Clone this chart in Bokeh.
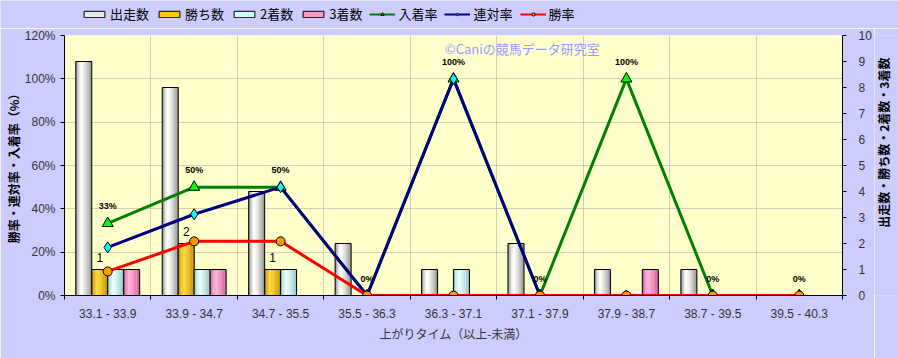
import math
from bokeh.plotting import figure
from bokeh.layouts import row, column
from bokeh.models import (Range1d, LinearAxis, FixedTicker, Legend, LegendItem,
                          Label, PrintfTickFormatter)
from bokeh.core.properties import value
from bokeh.embed import file_html
from bokeh.resources import INLINE

# ---- data ----
categories = ["33.1 - 33.9", "33.9 - 34.7", "34.7 - 35.5", "35.5 - 36.3", "36.3 - 37.1",
              "37.1 - 37.9", "37.9 - 38.7", "38.7 - 39.5", "39.5 - 40.3"]
starts = [9, 8, 4, 2, 1, 2, 1, 1, 0]
wins = [1, 2, 1, 0, 0, 0, 0, 0, 0]
seconds = [1, 1, 1, 0, 1, 0, 0, 0, 0]
thirds = [1, 1, 0, 0, 0, 0, 1, 0, 0]
place_rate = [33.3, 50.0, 50.0, 0, 100.0, 0, 100.0, 0, 0]
rentai_rate = [22.2, 37.5, 50.0, 0, 100.0, 0, 0, 0, 0]
win_rate = [11.1, 25.0, 25.0, 0, 0, 0, 0, 0, 0]
pct_ticks = [0, 20, 40, 60, 80, 100, 120]
cnt_ticks = list(range(0, 11))
right_title = "出走数・勝ち数・2着数・3着数"

JP = "Noto Sans CJK JP"
NUM = "Liberation Sans"
BG = "#ccccff"

n = len(categories)
centers = [i + 0.5 for i in range(n)]

p = figure(width=874, height=330, x_range=Range1d(0, n), y_range=Range1d(0, 120),
           output_backend="svg", toolbar_location=None,
           min_border_left=64, min_border_right=31, min_border_top=7, min_border_bottom=63,
           background_fill_color="#ffffcc", border_fill_color=BG,
           outline_line_color=None)
p.extra_y_ranges = {"cnt": Range1d(0, 10)}

# axes
xa = p.xaxis[0]
xa.ticker = FixedTicker(ticks=centers, minor_ticks=list(range(0, n + 1)))
xa.major_label_overrides = {c: lab for c, lab in zip(centers, categories)}
xa.major_tick_line_color = None
xa.minor_tick_in = 0
xa.minor_tick_out = 4
xa.minor_tick_line_color = "black"
xa.axis_line_color = "black"
xa.major_label_text_font = NUM
xa.major_label_text_font_size = "12px"
xa.major_label_text_color = "#333333"
xa.major_label_standoff = 5
xa.axis_label = "上がりタイム（以上-未満）"
xa.axis_label_text_font = JP
xa.axis_label_text_font_style = "normal"
xa.axis_label_text_font_size = "12px"
xa.axis_label_text_color = "#333333"
xa.axis_label_standoff = 1

ya = p.yaxis[0]
ya.ticker = FixedTicker(ticks=pct_ticks)
ya.formatter = PrintfTickFormatter(format="%d%%")
ya.major_tick_in = 0
ya.major_tick_out = 4
ya.minor_tick_line_color = None
ya.axis_line_color = "black"
ya.major_label_text_font = NUM
ya.major_label_text_font_size = "12px"
ya.major_label_text_color = "#333333"
ya.major_label_standoff = 5
ya.axis_label = "勝率・連対率・入着率（%）"
ya.axis_label_text_font = JP
ya.axis_label_text_font_style = "bold"
ya.axis_label_text_font_size = "12px"
ya.axis_label_text_color = "black"
ya.axis_label_standoff = 0

ra = LinearAxis(y_range_name="cnt", ticker=FixedTicker(ticks=cnt_ticks))
ra.major_tick_in = 0
ra.major_tick_out = 4
ra.minor_tick_line_color = None
ra.axis_line_color = "black"
ra.major_label_text_font = NUM
ra.major_label_text_font_size = "12px"
ra.major_label_text_color = "#333333"
ra.major_label_standoff = 12
p.add_layout(ra, "right")

# grids
p.xgrid.ticker = FixedTicker(ticks=list(range(1, n)))
p.ygrid.ticker = FixedTicker(ticks=pct_ticks[1:])
for g in (p.xgrid[0], p.ygrid[0]):
    g.grid_line_color = "#a0a0a0"
    g.grid_line_dash = "1 1"
    g.grid_line_width = 1

# ---- bars with cylinder shading ----
bar_w = 0.185
offsets = [-0.277, -0.092, 0.092, 0.277]
series = [
    ("出走数", starts, "#7a7a7a", "#ffffff", "#e8e8e8"),
    ("勝ち数", wins, "#b08000", "#ffd633", "#ffcc00"),
    ("2着数", seconds, "#7fb8b8", "#e6ffff", "#ccffff"),
    ("3着数", thirds, "#c0508a", "#ffb0d8", "#ff99cc"),
]


def mix(c1, c2, t):
    a = [int(c1[i:i + 2], 16) for i in (1, 3, 5)]
    b = [int(c2[i:i + 2], 16) for i in (1, 3, 5)]
    return "#%02x%02x%02x" % tuple(int(round(a[k] + (b[k] - a[k]) * t)) for k in range(3))


NS = 10
for (name, vals, dark, light, mid), off in zip(series, offsets):
    for k in range(NS):
        s = (k + 0.5) / NS
        if s < 0.35:
            t = 1 - ((0.35 - s) / 0.35) ** 1.5
        else:
            t = 1 - ((s - 0.35) / 0.65) ** 1.3 * 0.85
        col = mix(dark, light, max(0.0, min(1.0, t)))
        xs = [c + off - bar_w / 2 + (k + 0.5) * bar_w / NS for c in centers]
        p.vbar(x=xs, top=vals, bottom=0, width=bar_w / NS * 1.15,
               fill_color=col, line_color=None, y_range_name="cnt")
    xs = [c + off for c in centers]
    p.vbar(x=xs, top=vals, bottom=0, width=bar_w, fill_color=None,
           line_color="black", line_width=1, y_range_name="cnt")

# ---- lines ----
lines = [
    ("入着率", place_rate, "#008000", "triangle", "#00ff00", 11),
    ("連対率", rentai_rate, "#000080", "diamond", "#00ffff", 11),
    ("勝率", win_rate, "#ff0000", "circle", "#ff9900", 9),
]
for name, vals, lc, marker, mc, ms in lines:
    p.line(x=centers, y=vals, line_color=lc, line_width=3)
    p.scatter(x=centers, y=vals, marker=marker, size=ms, fill_color=mc,
              line_color="black", line_width=1)

# data labels for 入着率
p.text(x=centers, y=place_rate, text=[f"{round(v)}%" for v in place_rate],
       y_offset=-17, text_align="center", text_baseline="middle",
       text_font=value(NUM), text_font_size="9px", text_font_style="bold",
       text_color="black")

# labels for 勝ち数
wx = [c + offsets[1] for c, w in zip(centers, wins) if w > 0]
wy = [w for w in wins if w > 0]
p.text(x=wx, y=wy, text=[str(w) for w in wy], y_range_name="cnt",
       y_offset=-12, text_align="center", text_baseline="middle",
       text_font=value(NUM), text_font_size="12px", text_color="black")

# watermark
p.add_layout(Label(x=4.40, y=114, text="©Caniの競馬データ研究室", text_color="#9999ff",
                   text_font=JP, text_font_size="13px", text_baseline="middle"))

# ---- legend strip on top (its own small figure, renderers hidden) ----
top = figure(width=898, height=28, x_range=Range1d(0, n), y_range=Range1d(0, 120),
             output_backend="svg", toolbar_location=None,
             min_border_left=0, min_border_right=0, min_border_top=0, min_border_bottom=0,
             background_fill_color=BG, border_fill_color=BG, outline_line_color=None)
top.axis.visible = False
top.grid.visible = False
items = []
for (name, vals, dark, light, mid), off in zip(series, offsets):
    r = top.vbar(x=[c + off for c in centers], top=vals, width=bar_w, fill_color=mid,
                 line_color="black", line_width=1, visible=False)
    items.append(LegendItem(label=name, renderers=[r]))
for name, vals, lc, marker, mc, ms in lines:
    lr = top.line(x=centers, y=vals, line_color=lc, line_width=2, visible=False)
    sr = top.scatter(x=centers, y=vals, marker=marker, size=ms, fill_color=mc,
                     line_color="black", line_width=1, visible=False)
    items.append(LegendItem(label=name, renderers=[lr, sr]))
legend = Legend(items=items, orientation="horizontal", location=(81, 5),
                glyph_width=26, glyph_height=8, label_height=16, label_standoff=3,
                spacing=7, padding=0, margin=0, border_line_color=None,
                background_fill_alpha=0, inactive_fill_alpha=0, label_text_font=JP,
                label_text_font_size="13px", label_text_color="black")
top.add_layout(legend, "center")

# narrow strip on the right carrying the right-hand axis title (reads bottom-to-top)
q = figure(width=24, height=330, x_range=Range1d(0, 1), y_range=Range1d(0, 330),
           output_backend="svg", toolbar_location=None,
           min_border_left=0, min_border_right=0, min_border_top=0, min_border_bottom=0,
           background_fill_color=BG, border_fill_color=BG, outline_line_color=None)
q.axis.visible = False
q.grid.visible = False
q.text(x=[0.36], y=[194], text=[right_title], angle=math.pi / 2,
       text_align="center", text_baseline="middle", text_font=value(JP),
       text_font_size="12px", text_font_style="bold", text_color="black")

layout = column(top, row(p, q, spacing=0), spacing=0)
open("out.html", "w").write(file_html(layout, INLINE))
